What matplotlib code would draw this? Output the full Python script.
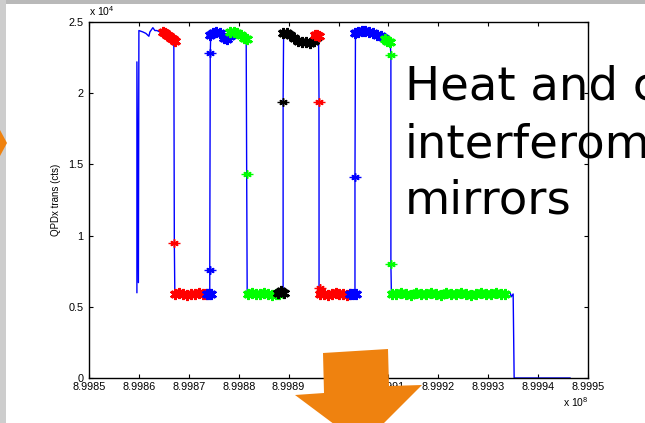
import matplotlib
matplotlib.use("Agg")
import matplotlib.pyplot as plt
from matplotlib.patches import Polygon, Rectangle

plt.rcParams['font.family'] = ['Liberation Sans', 'DejaVu Sans']
plt.rcParams['mathtext.default'] = 'regular'

# time axis in units of 1e8, counts in units of 1e4
# full QPD trace (blue line)
trace_t = [8.998596, 8.998596, 8.998599, 8.998600, 8.998608, 8.998614, 8.998620,
           8.998622, 8.998628, 8.998632, 8.998636, 8.998642, 8.998648, 8.998660,
           8.998670, 8.998671, 8.998672, 8.998736, 8.998742, 8.998742, 8.998743,
           8.998744, 8.998752, 8.998763, 8.998773, 8.998779, 8.998783, 8.998800,
           8.998815, 8.998816, 8.998817, 8.998883, 8.998889, 8.998889, 8.998890,
           8.998903, 8.998923, 8.998943, 8.998955, 8.998960, 8.998961, 8.998961,
           8.998962, 8.999023, 8.999033, 8.999033, 8.999034, 8.999053, 8.999073,
           8.999093, 8.999104, 8.999105, 8.999105, 8.999106, 8.999338, 8.999344,
           8.999346, 8.999350, 8.999352, 8.999464]
trace_y = [0.60, 2.22, 0.67, 2.44, 2.43, 2.42, 2.40,
           2.43, 2.46, 2.44, 2.44, 2.43, 2.42, 2.39,
           2.38, 0.95, 0.59, 0.59, 0.59, 0.76, 2.28,
           2.42, 2.43, 2.42, 2.40, 2.38, 2.43, 2.41,
           2.38, 1.43, 0.59, 0.59, 0.60, 1.94, 2.42,
           2.40, 2.36, 2.36, 2.39, 2.40, 1.94, 0.63,
           0.59, 0.59, 0.59, 1.41, 2.44, 2.45, 2.42,
           2.38, 2.33, 2.27, 0.80, 0.59, 0.59, 0.60,
           0.57, 0.59, 0.00, 0.00]

# heating cycles: dense plateau chunks (t, y) per colour
red_top1_t = [8.998648, 8.998652, 8.998656, 8.998660, 8.998664, 8.998668, 8.998672]
red_top1_y = [2.43, 2.42, 2.41, 2.40, 2.39, 2.38, 2.37]
red_low1_t = [8.998673, 8.998680, 8.998688, 8.998696, 8.998704, 8.998712, 8.998720, 8.998728, 8.998734]
red_low1_y = [0.59, 0.60, 0.59, 0.58, 0.59, 0.59, 0.60, 0.59, 0.59]
blue_low1_t = [8.998736, 8.998740, 8.998744]
blue_low1_y = [0.59, 0.59, 0.59]
blue_top1_t = [8.998742, 8.998748, 8.998754, 8.998762, 8.998770, 8.998776, 8.998782]
blue_top1_y = [2.41, 2.42, 2.43, 2.42, 2.39, 2.38, 2.40]
green_top1_t = [8.998783, 8.998790, 8.998797, 8.998804, 8.998810, 8.998816]
green_top1_y = [2.43, 2.43, 2.42, 2.41, 2.39, 2.38]
green_low1_t = [8.998818, 8.998826, 8.998834, 8.998842, 8.998850, 8.998858, 8.998866, 8.998874, 8.998880]
green_low1_y = [0.59, 0.60, 0.59, 0.59, 0.60, 0.59, 0.58, 0.59, 0.59]
black_low1_t = [8.998878, 8.998884, 8.998890]
black_low1_y = [0.60, 0.61, 0.60]
black_top1_t = [8.998889, 8.998896, 8.998903, 8.998910, 8.998918, 8.998926, 8.998934, 8.998942, 8.998950, 8.998954]
black_top1_y = [2.42, 2.42, 2.41, 2.39, 2.37, 2.36, 2.36, 2.35, 2.37, 2.39]
red_top2_t = [8.998952, 8.998956, 8.998960]
red_top2_y = [2.41, 2.41, 2.40]
red_low2_t = [8.998962, 8.998970, 8.998978, 8.998986, 8.998994, 8.999002, 8.999010, 8.999018, 8.999024]
red_low2_y = [0.59, 0.59, 0.58, 0.59, 0.60, 0.59, 0.59, 0.58, 0.59]
blue_low2_t = [8.999024, 8.999029, 8.999035]
blue_low2_y = [0.59, 0.59, 0.59]
blue_top2_t = [8.999033, 8.999040, 8.999047, 8.999054, 8.999062, 8.999070, 8.999078, 8.999086, 8.999092]
blue_top2_y = [2.42, 2.43, 2.44, 2.44, 2.43, 2.42, 2.41, 2.40, 2.39]
green_top2_t = [8.999093, 8.999098, 8.999103]
green_top2_y = [2.38, 2.37, 2.36]
green_low2_t = [8.999107, 8.999115, 8.999125, 8.999135, 8.999145, 8.999155, 8.999165, 8.999175,
                8.999185, 8.999195, 8.999205, 8.999215, 8.999225, 8.999235, 8.999245, 8.999255,
                8.999265, 8.999275, 8.999285, 8.999295, 8.999305, 8.999315, 8.999325, 8.999334]
green_low2_y = [0.59, 0.59, 0.60, 0.59, 0.58, 0.60, 0.59, 0.59,
                0.60, 0.59, 0.58, 0.60, 0.59, 0.59, 0.60, 0.59,
                0.58, 0.59, 0.60, 0.59, 0.59, 0.60, 0.59, 0.59]

# single transition samples
red_step_t = [8.998671, 8.998962]
red_step_y = [0.95, 0.63]
red_mid_t = [8.998961]
red_mid_y = [1.94]
blue_step_t = [8.998742, 8.998742, 8.999033]
blue_step_y = [0.76, 2.28, 1.41]
green_step_t = [8.998816, 8.999105, 8.999105]
green_step_y = [1.43, 2.27, 0.80]
black_step_t = [8.998889]
black_step_y = [1.94]

BLUE = '#0000ff'
RED = '#ff0000'
GREEN = '#00ff00'
BLACK = '#000000'
ORANGE = '#ef820f'

fig = plt.figure(figsize=(6.45, 4.23), dpi=100)
fig.patch.set_facecolor('white')

W, H = 645.0, 423.0
# slide background strips
fig.patches.append(Rectangle((0, 1 - 4 / H), 1, 4 / H, transform=fig.transFigure,
                             facecolor='#b9b9b9', edgecolor='none', zorder=0))
fig.patches.append(Rectangle((0, 0), 6 / W, 1, transform=fig.transFigure,
                             facecolor='#cdcdcd', edgecolor='none', zorder=0))
fig.patches.append(Polygon([(0, 1 - 130 / H), (7 / W, 1 - 143 / H), (0, 1 - 156 / H)],
                           closed=True, transform=fig.transFigure,
                           facecolor=ORANGE, edgecolor='none', zorder=1))

ax = fig.add_axes([89 / W, 1 - 378 / H, (588 - 89) / W, (378 - 22) / H])

ax.plot(trace_t, trace_y, color=BLUE, lw=1.0, zorder=2)

chunks = [
    (red_top1_t, red_top1_y, RED), (red_low1_t, red_low1_y, RED),
    (blue_low1_t, blue_low1_y, BLUE), (blue_top1_t, blue_top1_y, BLUE),
    (green_top1_t, green_top1_y, GREEN), (green_low1_t, green_low1_y, GREEN),
    (black_low1_t, black_low1_y, BLACK), (black_top1_t, black_top1_y, BLACK),
    (red_top2_t, red_top2_y, RED), (red_low2_t, red_low2_y, RED),
    (blue_low2_t, blue_low2_y, BLUE), (blue_top2_t, blue_top2_y, BLUE),
    (green_top2_t, green_top2_y, GREEN), (green_low2_t, green_low2_y, GREEN),
]
for t, y, c in chunks:
    ax.plot(t, y, color=c, lw=5.0, solid_capstyle='round', zorder=3)
    ax.plot(t, y, ls='none', marker=(6, 2, 0), ms=8, mew=1.6, color=c, zorder=3)
    ax.plot(t, y, ls='none', marker=(4, 2, 45), ms=7, mew=1.4, color=c, zorder=3)

for t, y, c in [(red_step_t, red_step_y, RED), (red_mid_t, red_mid_y, RED),
                (blue_step_t, blue_step_y, BLUE), (green_step_t, green_step_y, GREEN),
                (black_step_t, black_step_y, BLACK)]:
    ax.plot(t, y, ls='none', marker=(6, 2, 0), ms=6, mew=1.1, color=c, zorder=4)
    ax.plot(t, y, ls='none', marker='_', ms=8, mew=1.0, color=c, zorder=4)

ax.set_xlim(8.9985, 8.9995)
ax.set_ylim(0, 2.5)
xt = [8.9985, 8.9986, 8.9987, 8.9988, 8.9989, 8.9990, 8.9991, 8.9992, 8.9993, 8.9994, 8.9995]
ax.set_xticks(xt)
ax.set_xticklabels(['8.9985', '8.9986', '8.9987', '8.9988', '8.9989', '8.999',
                    '8.9991', '8.9992', '8.9993', '8.9994', '8.9995'])
ax.set_yticks([0, 0.5, 1, 1.5, 2, 2.5])
ax.set_yticklabels(['0', '0.5', '1', '1.5', '2', '2.5'])
ax.tick_params(direction='in', length=3, width=0.8, top=True, right=True,
               labelsize=7.8, colors='black')
ax.tick_params(axis='x', pad=3)
ax.tick_params(axis='y', pad=4)
for s in ax.spines.values():
    s.set_linewidth(1.0)
ax.set_ylabel('QPDx trans (cts)', fontsize=7, labelpad=5)

ax.text(0.0, 1.012, 'x 10$^{4}$', transform=ax.transAxes, fontsize=7.5, ha='left', va='bottom')
fig.text(563 / W, 1 - 407 / H, 'x 10$^{8}$', fontsize=7.5, ha='left', va='baseline')

# slide text over the plot
for line, base in [('Heat and c', 99), ('interferom', 157), ('mirrors', 213)]:
    fig.text(405 / W, 1 - base / H, line, fontsize=33.5, family='DejaVu Sans',
              ha='left', va='baseline', color='black', zorder=10)

# orange down arrow
arrow = [(323, 353), (388, 349), (389, 386), (422, 385), (362, 445), (295, 395), (324, 393)]
fig.patches.append(Polygon([(x / W, 1 - y / H) for x, y in arrow], closed=True,
                           transform=fig.transFigure, facecolor=ORANGE,
                           edgecolor='none', zorder=20))

fig.savefig('out.png', dpi=100)
